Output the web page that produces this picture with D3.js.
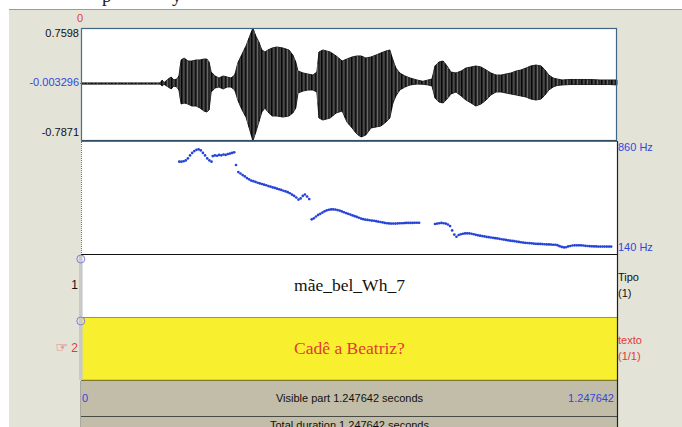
<!DOCTYPE html>
<html>
<head>
<meta charset="utf-8">
<script src="https://cdn.jsdelivr.net/npm/d3@7"></script>
<style>
  html, body { margin: 0; padding: 0; background: #ffffff; }
  svg { display: block; }
</style>
</head>
<body>
<svg id="editor" width="682" height="427"></svg>
<script>
// ---- sound: duration and amplitude range -------------------------------
const duration = 1.247642;
const ampRange = [-0.7871, 0.7598];
const ampCursor = -0.003296;

// waveform envelope (seconds, upper peak, lower peak)
const envTime = [
  0, 0.184, 0.189, 0.193, 0.203, 0.210, 0.216, 0.223, 0.228, 0.233,
  0.240, 0.249, 0.258, 0.268, 0.277, 0.286, 0.293, 0.298, 0.303, 0.312,
  0.321, 0.331, 0.340, 0.349, 0.358, 0.365, 0.375, 0.384, 0.393, 0.400,
  0.407, 0.414, 0.421, 0.428, 0.435, 0.445, 0.456, 0.470, 0.484, 0.493,
  0.500, 0.505, 0.517, 0.528, 0.540, 0.549, 0.554, 0.563, 0.580, 0.594,
  0.608, 0.619, 0.631, 0.642, 0.652, 0.663, 0.675, 0.687, 0.698, 0.710,
  0.719, 0.726, 0.733, 0.742, 0.754, 0.766, 0.782, 0.796, 0.808, 0.817,
  0.824, 0.833, 0.843, 0.852, 0.861, 0.873, 0.885, 0.896, 0.908, 0.919,
  0.931, 0.943, 0.954, 0.966, 0.978, 0.989, 1.001, 1.013, 1.024, 1.036,
  1.047, 1.059, 1.071, 1.080, 1.089, 1.099, 1.108, 1.120, 1.138, 1.162,
  1.185, 1.208, 1.231, 1.2476
];
const envMax = [
  0.008, 0.008, 0.048, 0.010, 0.062, 0.089, 0.048, 0.062, 0.103, 0.322,
  0.349, 0.308, 0.308, 0.322, 0.322, 0.335, 0.335, 0.294, 0.157, 0.103,
  0.075, 0.103, 0.089, 0.075, 0.116, 0.281, 0.404, 0.513, 0.650, 0.7598,
  0.650, 0.568, 0.459, 0.431, 0.459, 0.486, 0.500, 0.486, 0.459, 0.390,
  0.294, 0.171, 0.144, 0.130, 0.116, 0.157, 0.431, 0.459, 0.431, 0.377,
  0.308, 0.335, 0.363, 0.377, 0.377, 0.349, 0.363, 0.390, 0.418, 0.445,
  0.459, 0.322, 0.212, 0.144, 0.103, 0.075, 0.048, 0.030, 0.048, 0.062,
  0.240, 0.294, 0.308, 0.240, 0.157, 0.144, 0.171, 0.212, 0.226, 0.240,
  0.226, 0.185, 0.144, 0.116, 0.116, 0.130, 0.144, 0.171, 0.185, 0.212,
  0.240, 0.253, 0.240, 0.185, 0.116, 0.075, 0.062, 0.048, 0.055, 0.055,
  0.055, 0.048, 0.048, 0.048
];
const envMin = [
  -0.008, -0.008, -0.034, -0.010, -0.048, -0.075, -0.034, -0.048, -0.089, -0.281,
  -0.267, -0.281, -0.308, -0.308, -0.335, -0.376, -0.390, -0.363, -0.116, -0.062,
  -0.048, -0.075, -0.048, -0.048, -0.089, -0.226, -0.363, -0.459, -0.637, -0.7871,
  -0.664, -0.527, -0.390, -0.335, -0.390, -0.445, -0.445, -0.459, -0.445, -0.404,
  -0.335, -0.130, -0.103, -0.089, -0.089, -0.116, -0.472, -0.500, -0.472, -0.404,
  -0.376, -0.527, -0.609, -0.691, -0.732, -0.705, -0.609, -0.595, -0.582, -0.527,
  -0.472, -0.267, -0.171, -0.089, -0.048, -0.020, -0.007, -0.010, -0.020, -0.034,
  -0.198, -0.253, -0.267, -0.212, -0.144, -0.116, -0.171, -0.226, -0.267, -0.308,
  -0.281, -0.226, -0.157, -0.116, -0.116, -0.130, -0.144, -0.157, -0.171, -0.185,
  -0.212, -0.226, -0.212, -0.157, -0.089, -0.048, -0.027, -0.020, -0.014, -0.014,
  -0.014, -0.014, -0.014, -0.020
];

// ---- pitch track (Hz), voiced stretches sampled every 5 ms --------------
const pitchRange = [140, 860];
const pitchStep = 0.005;
const pitchStart = [0.2288, 0.3066, 0.3608, 0.3662, 0.5370, 0.8240];
const pitchHz = [
  [728, 728, 731, 736, 749, 768, 784, 796, 804, 807, 800, 784, 768, 749, 736, 728],
  [764, 768, 766, 771, 769, 774, 771, 777, 780, 784, 788],
  [707],
  [662, 653, 643, 634, 624, 616, 608, 604, 599, 594, 590, 586, 582, 578, 573, 569,
   564, 561, 556, 552, 548, 543, 539, 534, 527, 518, 510, 500, 487, 494, 510, 519,
   506, 490],
  [361, 367, 379, 389, 396, 404, 412, 418, 422, 424, 424, 423, 420, 417, 411, 406,
   401, 396, 391, 386, 381, 376, 371, 366, 362, 359, 357, 355, 353, 352, 349, 346,
   344, 341, 338, 336, 335, 334, 334, 334, 335, 336, 336, 337, 338, 338, 338, 338,
   339, 339, 339],
  [331, 334, 336, 338, 336, 334, 328, 318, 290, 264, 250, 261, 266, 269, 271, 272,
   271, 269, 266, 262, 259, 257, 254, 252, 249, 247, 245, 243, 241, 239, 237, 234,
   232, 230, 227, 225, 223, 222, 219, 217, 215, 213, 211, 210, 209, 208, 206, 205,
   204, 204, 203, 202, 201, 201, 200, 199, 199, 196, 190, 185, 182, 183, 188, 191,
   194, 195, 195, 195, 195, 194, 192, 191, 190, 189, 188, 188, 187, 187, 187, 187,
   187, 187, 187]
];

// ---- tiers -------------------------------------------------------------
const tierNumbers = ["1", "2"];
const tierNames = ["Tipo", "texto"];
const tierCounts = ["(1)", "(1/1)"];
const tierTexts = ["mãe_bel_Wh_7", "Cadê a Beatriz?"];

// ---- drawing -----------------------------------------------------------
const SANS = "'Liberation Sans', Arial, Helvetica, sans-serif";
const SERIF = "'Liberation Serif', 'Times New Roman', serif";
const svg = d3.select("#editor");
const L = 81, R = 617;
const waveTop = 28, waveBot = 141, pitchBot = 254;
const tierTop = [254, 317], tierBot = [317, 380];

const x = d3.scaleLinear().domain([0, duration]).range([L, R]);
const yAmp = d3.scaleLinear().domain(ampRange).range([waveBot, waveTop]);
const yPitch = d3.scaleLinear().domain(pitchRange).range([pitchBot, waveBot]);

const BLUE = "#3346dc", RED = "#e23a36";

function label(px, py, str, opts = {}) {
  return svg.append("text").attr("x", px).attr("y", py)
    .attr("text-anchor", opts.anchor || "start")
    .style("font-family", opts.family || SANS)
    .style("font-size", (opts.size || 11) + "px")
    .attr("fill", opts.color || "#111").text(str);
}

// window background
svg.append("rect").attr("x", 0).attr("y", 0).attr("width", 682).attr("height", 427).attr("fill", "#ffffff");
svg.append("rect").attr("x", 9).attr("y", 9).attr("width", 673).attr("height", 418).attr("fill", "#e3e3d8");
svg.append("line").attr("x1", 9).attr("x2", 682).attr("y1", 9.5).attr("y2", 9.5)
  .attr("stroke", "#9c9c96").attr("stroke-width", 1.2);

// descenders of the page text above the window
label(102, 1.5, "p", { family: SERIF, size: 19, color: "#222" });
label(172, 1.5, "y", { family: SERIF, size: 19, color: "#222" });

// sound and pitch panels
svg.append("rect").attr("x", L).attr("y", waveTop).attr("width", R - L).attr("height", pitchBot - waveTop)
  .attr("fill", "#ffffff");

// zero line in the waveform
svg.append("line").attr("x1", L).attr("x2", R).attr("y1", yAmp(ampCursor)).attr("y2", yAmp(ampCursor))
  .attr("stroke", "#5a7d98").attr("stroke-width", 0.8);

// waveform envelope fill
const env = envTime.map((t, i) => ({ t, hi: envMax[i], lo: envMin[i] }));
const area = d3.area().x(d => x(d.t)).y0(d => yAmp(d.lo)).y1(d => yAmp(d.hi));
svg.append("path").datum(env).attr("d", area).attr("fill", "#3a3a3a")
  .attr("stroke", "#111").attr("stroke-width", 0.9);

// vertical oscillation strokes inside the envelope
const hiAt = d3.scaleLinear().domain(envTime).range(envMax);
const loAt = d3.scaleLinear().domain(envTime).range(envMin);
const strokeShades = ["#000", "#1c1c1c", "#666", "#000", "#2a2a2a", "#808080", "#0a0a0a", "#444"];
const strokes = d3.range(L + 0.5, R, 1.25);
svg.append("g").selectAll("line").data(strokes).join("line")
  .attr("x1", d => d).attr("x2", d => d)
  .attr("y1", d => yAmp(hiAt(x.invert(d))))
  .attr("y2", d => yAmp(loAt(x.invert(d))))
  .attr("stroke", (d, i) => strokeShades[i % strokeShades.length])
  .attr("stroke-width", 0.9);

// waveform frame
svg.append("rect").attr("x", L + 0.5).attr("y", waveTop + 0.5).attr("width", R - L - 1).attr("height", waveBot - waveTop - 1)
  .attr("fill", "none").attr("stroke", "#3f6684").attr("stroke-width", 1.2);
svg.append("line").attr("x1", L).attr("x2", R).attr("y1", waveBot).attr("y2", waveBot)
  .attr("stroke", "#2e4658").attr("stroke-width", 1.4);

// pitch dots
const pitchPts = [];
pitchStart.forEach((t0, s) => pitchHz[s].forEach((hz, i) => pitchPts.push({ t: t0 + i * pitchStep, hz })));
svg.append("g").selectAll("circle").data(pitchPts).join("circle")
  .attr("cx", d => x(d.t)).attr("cy", d => yPitch(d.hz)).attr("r", 1.35)
  .attr("fill", "#2443d8");

// cursor at time zero
svg.append("line").attr("x1", L + 0.5).attr("x2", L + 0.5).attr("y1", waveTop).attr("y2", pitchBot)
  .attr("stroke", "#c0504a").attr("stroke-width", 1).attr("stroke-dasharray", "1,1");

// pitch panel bottom
svg.append("line").attr("x1", L).attr("x2", R).attr("y1", pitchBot + 0.5).attr("y2", pitchBot + 0.5)
  .attr("stroke", "#111").attr("stroke-width", 1.2);

// tiers
const tierFill = ["#ffffff", "#f8ef2e"];
tierTop.forEach((top, i) => {
  svg.append("rect").attr("x", L).attr("y", top + 1).attr("width", R - L).attr("height", tierBot[i] - top - 1)
    .attr("fill", tierFill[i]);
});
svg.append("line").attr("x1", L).attr("x2", R).attr("y1", 317.5).attr("y2", 317.5)
  .attr("stroke", "#9d9640").attr("stroke-width", 1.2);
svg.append("line").attr("x1", L).attr("x2", R).attr("y1", 380.5).attr("y2", 380.5)
  .attr("stroke", "#7e7932").attr("stroke-width", 1.4);

// left boundary strip with its circles
svg.append("rect").attr("x", 79).attr("y", 255).attr("width", 3.6).attr("height", 125).attr("fill", "#c9c9c9");
[259, 321].forEach(cy => {
  svg.append("circle").attr("cx", 80.8).attr("cy", cy).attr("r", 4)
    .attr("fill", "none").attr("stroke", "#7f80e6").attr("stroke-width", 1);
});

// tier texts
const tierMidX = (82 + R) / 2;
label(tierMidX, 291, tierTexts[0], { anchor: "middle", family: SERIF, size: 17.5, color: "#111" });
label(tierMidX, 354, tierTexts[1], { anchor: "middle", family: SERIF, size: 17.5, color: RED });

// tier numbers
label(78, 289, tierNumbers[0], { anchor: "end", size: 12 });
label(78, 352, tierNumbers[1], { anchor: "end", size: 12, color: RED });
label(68, 352, "☞", { anchor: "end", family: "'DejaVu Sans', sans-serif", size: 14, color: RED });

// tier names on the right
label(618, 281, tierNames[0]);
label(618, 297, tierCounts[0]);
label(618, 344, tierNames[1], { color: RED });
label(618, 360, tierCounts[1], { color: RED });

// amplitude labels
label(80, 22, x.domain()[0], { anchor: "middle", color: RED });
label(79, 37, ampRange[1], { anchor: "end" });
label(79, 86, ampCursor, { anchor: "end", color: BLUE });
label(79, 135.5, ampRange[0], { anchor: "end" });

// pitch range labels
label(618, 151, pitchRange[1] + " Hz", { color: BLUE });
label(618, 250.5, pitchRange[0] + " Hz", { color: BLUE });

// time bars
svg.append("rect").attr("x", L).attr("y", 381).attr("width", R - L).attr("height", 46).attr("fill", "#c1bda8");
svg.append("line").attr("x1", L).attr("x2", R).attr("y1", 416.5).attr("y2", 416.5)
  .attr("stroke", "#4a4a44").attr("stroke-width", 1.2);
svg.append("line").attr("x1", L - 0.5).attr("x2", L - 0.5).attr("y1", 381).attr("y2", 427)
  .attr("stroke", "#a8a8a0").attr("stroke-width", 1);
label(82, 401.5, x.domain()[0], { color: BLUE });
label(614, 401.5, duration, { anchor: "end", color: BLUE });
label(tierMidX, 401.5, "Visible part " + duration + " seconds", { anchor: "middle" });
label(tierMidX, 429, "Total duration " + duration + " seconds", { anchor: "middle" });

// right edge of the editor area
svg.append("line").attr("x1", R + 0.5).attr("x2", R + 0.5).attr("y1", waveBot).attr("y2", 427)
  .attr("stroke", "#222").attr("stroke-width", 1.2);
</script>
</body>
</html>
